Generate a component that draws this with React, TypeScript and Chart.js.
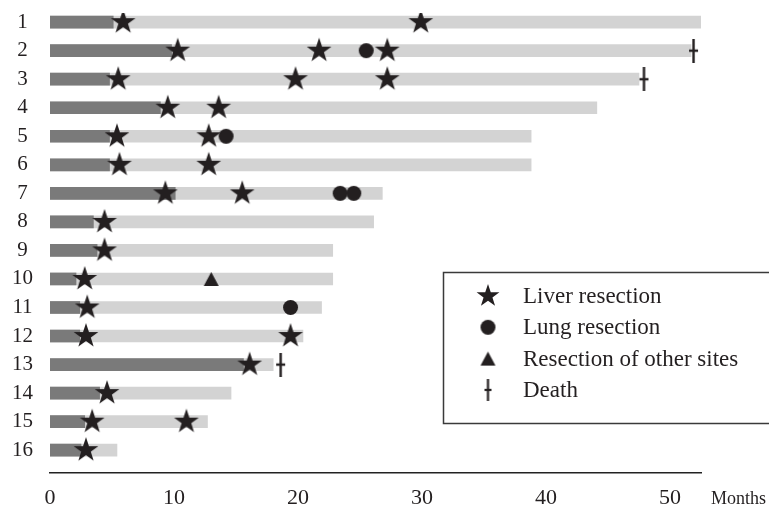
import React, { useEffect, useRef } from "react";
import { Chart, registerables } from "chart.js";

Chart.register(...registerables);

// ---------- data ----------
const patients = [1, 2, 3, 4, 5, 6, 7, 8, 9, 10, 11, 12, 13, 14, 15, 16];
const rowLabels = ["1", "2", "3", "4", "5", "6", "7", "8", "9", "10", "11", "12", "13", "14", "15", "16"];
// dark segment (months from start)
const initialPeriod = [5.1, 9.8, 4.8, 8.9, 4.8, 4.8, 10.1, 3.5, 3.8, 2.1, 2.4, 2.4, 15.6, 4.0, 2.8, 2.5];
// light segment end (total follow-up, months)
const followUp = [52.5, 51.7, 47.5, 44.1, 38.8, 38.8, 26.8, 26.1, 22.8, 22.8, 21.9, 20.4, 18.0, 14.6, 12.7, 5.4];
const xTickValues = [0, 10, 20, 30, 40, 50];

// [patient, month]
const liverResection: [number, number][] = [
  [1, 5.9], [1, 29.9],
  [2, 10.3], [2, 21.7], [2, 27.2],
  [3, 5.5], [3, 19.8], [3, 27.2],
  [4, 9.5], [4, 13.6],
  [5, 5.4], [5, 12.8],
  [6, 5.6], [6, 12.8],
  [7, 9.3], [7, 15.5],
  [8, 4.4],
  [9, 4.4],
  [10, 2.8],
  [11, 3.0],
  [12, 2.9], [12, 19.4],
  [13, 16.1],
  [14, 4.6],
  [15, 3.4], [15, 11.0],
  [16, 2.9],
];
const lungResection: [number, number][] = [[2, 25.5], [5, 14.2], [7, 23.4], [7, 24.5], [11, 19.4]];
const otherResection: [number, number][] = [[10, 13.0]];
const deaths: [number, number][] = [[2, 51.9], [3, 47.9], [13, 18.6]];

const legendLabels = ["Liver resection", "Lung resection", "Resection of other sites", "Death"];
const axisUnit = "Months";

// ---------- styles ----------
const INK = "#231f20";
const DARK = "#7a7a7a";
const LIGHT = "#d3d3d3";
const FONT = "'Liberation Serif', 'Times New Roman', serif";

function makeStar(R: number): HTMLCanvasElement {
  const s = Math.ceil(R * 2 + 2);
  const c = document.createElement("canvas");
  c.width = s;
  c.height = s;
  const ctx = c.getContext("2d")!;
  const cx = s / 2, cy = s / 2, r = R * 0.39;
  ctx.beginPath();
  for (let i = 0; i < 10; i++) {
    const rad = i % 2 === 0 ? R : r;
    const a = -Math.PI / 2 + (i * Math.PI) / 5;
    const x = cx + rad * Math.cos(a);
    const y = cy + rad * Math.sin(a);
    if (i === 0) ctx.moveTo(x, y);
    else ctx.lineTo(x, y);
  }
  ctx.closePath();
  ctx.fillStyle = INK;
  ctx.fill();
  return c;
}

function makeCircle(r: number): HTMLCanvasElement {
  const s = Math.ceil(r * 2 + 2);
  const c = document.createElement("canvas");
  c.width = s;
  c.height = s;
  const ctx = c.getContext("2d")!;
  ctx.beginPath();
  ctx.arc(s / 2, s / 2, r, 0, Math.PI * 2);
  ctx.fillStyle = INK;
  ctx.fill();
  return c;
}

function makeTriangle(w: number, h: number): HTMLCanvasElement {
  const c = document.createElement("canvas");
  c.width = Math.ceil(w + 2);
  c.height = Math.ceil(h + 2);
  const ctx = c.getContext("2d")!;
  ctx.beginPath();
  ctx.moveTo(c.width / 2, 1);
  ctx.lineTo(1 + w, 1 + h);
  ctx.lineTo(1, 1 + h);
  ctx.closePath();
  ctx.fillStyle = INK;
  ctx.fill();
  return c;
}

function makeDagger(w: number, h: number, lw: number): HTMLCanvasElement {
  const c = document.createElement("canvas");
  c.width = Math.ceil(w + 2);
  c.height = Math.ceil(h);
  const ctx = c.getContext("2d")!;
  ctx.fillStyle = INK;
  const cx = c.width / 2;
  ctx.fillRect(cx - lw / 2, 0, lw, h);
  ctx.fillRect(cx - w / 2, h * 0.5 - lw / 2, w, lw);
  return c;
}

const toPoints = (arr: [number, number][]) => arr.map(([p, m]) => ({ x: m, y: p }));

export default function App() {
  const ref = useRef<HTMLCanvasElement | null>(null);

  useEffect(() => {
    if (!ref.current) return;
    const star = makeStar(13);
    const circle = makeCircle(7.5);
    const triangle = makeTriangle(15, 14);
    const dagger = makeDagger(9, 24, 2.4);
    const legendStar = makeStar(12);
    const legendDagger = makeDagger(7, 22, 2.2);
    const legendIcons = [legendStar, circle, triangle, legendDagger];

    const overlay = {
      id: "overlay",
      afterDraw(chart: any) {
        const ctx: CanvasRenderingContext2D = chart.ctx;
        ctx.save();
        ctx.strokeStyle = "#3a3a3a";
        ctx.lineWidth = 1.5;
        ctx.strokeRect(443.5, 272.5, 340, 151);
        ctx.fillStyle = INK;
        ctx.font = `23px ${FONT}`;
        ctx.textBaseline = "middle";
        ctx.textAlign = "left";
        legendLabels.forEach((lbl, i) => {
          const y = 296 + i * 31.3;
          const img = legendIcons[i];
          ctx.drawImage(img, 488 - img.width / 2, y - img.height / 2);
          ctx.fillText(lbl, 523, y + 1);
        });
        ctx.font = `18px ${FONT}`;
        ctx.fillText(axisUnit, 711, 499);
        ctx.restore();
      },
    };

    const chart = new Chart(ref.current, {
      type: "bar",
      data: {
        datasets: [
          {
            type: "scatter",
            label: legendLabels[0],
            data: toPoints(liverResection),
            pointStyle: star as any,
            pointRadius: 12,
            showLine: false,
            order: 0,
          },
          {
            type: "scatter",
            label: legendLabels[1],
            data: toPoints(lungResection),
            pointStyle: circle as any,
            pointRadius: 8,
            showLine: false,
            order: 0,
          },
          {
            type: "scatter",
            label: legendLabels[2],
            data: toPoints(otherResection),
            pointStyle: triangle as any,
            pointRadius: 8,
            showLine: false,
            order: 0,
          },
          {
            type: "scatter",
            label: legendLabels[3],
            data: toPoints(deaths),
            pointStyle: dagger as any,
            pointRadius: 8,
            showLine: false,
            order: 0,
          },
          {
            type: "bar",
            label: "initial",
            data: patients.map((p, i) => ({ x: initialPeriod[i], y: p })) as any,
            backgroundColor: DARK,
            barThickness: 12,
            grouped: false,
            order: 1,
          } as any,
          {
            type: "bar",
            label: "follow-up",
            data: patients.map((p, i) => ({ x: followUp[i], y: p })) as any,
            backgroundColor: LIGHT,
            barThickness: 12,
            grouped: false,
            order: 2,
          } as any,
        ],
      },
      options: {
        indexAxis: "y",
        responsive: false,
        animation: false,
        events: [],
        layout: { padding: { top: 6.7, right: 68, bottom: 0, left: 0 } },
        plugins: { legend: { display: false }, tooltip: { enabled: false } },
        scales: {
          x: {
            type: "linear",
            position: "bottom",
            min: 0,
            max: 52.5,
            offset: false,
            grid: { display: false, drawTicks: false },
            border: { display: true, color: "#222", width: 1.5 },
            afterBuildTicks: (scale: any) => {
              scale.ticks = xTickValues.map((v) => ({ value: v }));
            },
            afterFit: (scale: any) => {
              scale.height = 36;
            },
            ticks: {
              color: INK,
              font: { family: FONT, size: 22 },
              padding: 12,
              maxRotation: 0,
              autoSkip: false,
            },
          },
          y: {
            type: "linear",
            reverse: true,
            min: 0.68,
            max: 16.8,
            offset: false,
            grid: { display: false, drawTicks: false },
            border: { display: false },
            afterBuildTicks: (scale: any) => {
              scale.ticks = patients.map((v) => ({ value: v }));
            },
            afterFit: (scale: any) => {
              scale.width = 50;
              scale.paddingTop = 0;
              scale.paddingBottom = 0;
            },
            ticks: {
              color: INK,
              font: { family: FONT, size: 21 },
              padding: 17,
              crossAlign: "center",
              autoSkip: false,
              callback: (v: any) => rowLabels[patients.indexOf(Number(v))] ?? "",
            },
          },
        },
      } as any,
      plugins: [overlay],
    });
    return () => chart.destroy();
  }, []);

  return (
    <div style={{ position: "fixed", left: 0, top: 0, width: 769, height: 509, background: "#fff" }}>
      <canvas ref={ref} width={769} height={509} style={{ display: "block" }} />
    </div>
  );
}
